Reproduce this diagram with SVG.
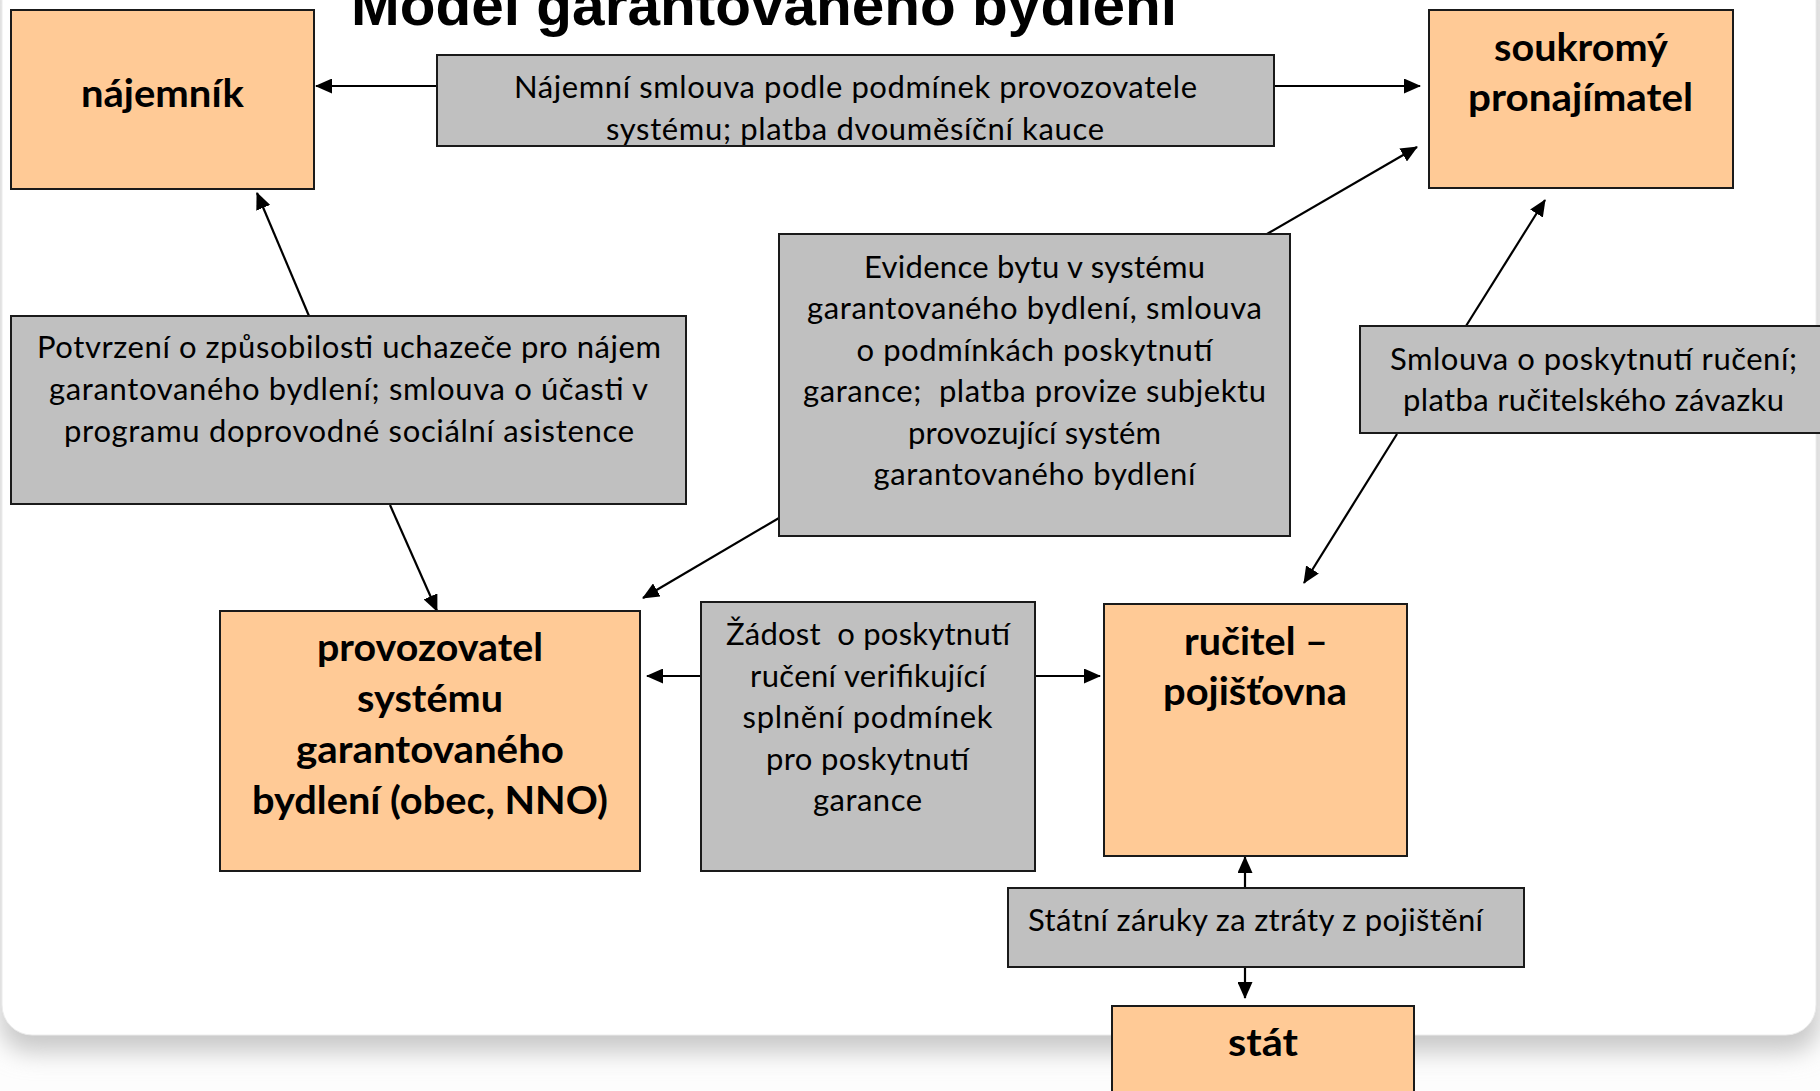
<svg xmlns="http://www.w3.org/2000/svg" width="1820" height="1091" viewBox="0 0 1820 1091">
<style>
.node{fill:#FFCA96;stroke:#1a1a1a;stroke-width:2}
.lbl{fill:#C0C0C0;stroke:#1a1a1a;stroke-width:2}
.bt{font-family:Lato,"Open Sans","Liberation Sans",sans-serif;font-weight:700;font-size:39px;fill:#000}
.gt{font-family:Lato,"Open Sans","Liberation Sans",sans-serif;font-weight:400;font-size:31px;fill:#000}
.title{font-family:"Liberation Sans",Arial,sans-serif;font-weight:700;font-size:58px;fill:#000}
.con{stroke:#000;stroke-width:2.2;fill:none;marker-end:url(#ah)}
</style>
<defs>
<marker id="ah" markerWidth="17" markerHeight="15" refX="16" refY="7.5" orient="auto" markerUnits="userSpaceOnUse">
<path d="M0,0 L17,7.5 L0,15 z" fill="#000"/>
</marker>
<filter id="sh" x="-5%" y="-5%" width="110%" height="115%">
<feGaussianBlur stdDeviation="12"/>
</filter>
</defs>
<rect x="0" y="0" width="1820" height="1091" fill="#fdfdfd"/>
<rect x="0" y="-40" width="1820" height="1092" rx="30" fill="#c8c8c8" filter="url(#sh)"/>
<rect x="2" y="-40" width="1814" height="1075" rx="30" fill="#ffffff" stroke="#ececec" stroke-width="1"/>
<text class="title" x="351" y="25" textLength="826" lengthAdjust="spacingAndGlyphs">Model garantovaného bydlení</text>

<g id="connectors">
<line class="con" x1="437" y1="86" x2="316" y2="86"/>
<line class="con" x1="1274" y1="86" x2="1420" y2="86"/>
<line class="con" x1="1267" y1="234" x2="1417" y2="147"/>
<line class="con" x1="779" y1="518" x2="643" y2="598"/>
<line class="con" x1="309" y1="316" x2="257" y2="193"/>
<line class="con" x1="390" y1="505" x2="437" y2="611"/>
<line class="con" x1="1466" y1="326" x2="1545" y2="200"/>
<line class="con" x1="1397" y1="434" x2="1304" y2="583"/>
<line class="con" x1="701" y1="676" x2="647" y2="676"/>
<line class="con" x1="1035" y1="676" x2="1100" y2="676"/>
<line class="con" x1="1245" y1="888" x2="1245" y2="857"/>
<line class="con" x1="1245" y1="967" x2="1245" y2="998"/>
</g>

<g id="najemnik">
<rect class="node" x="11" y="10" width="303" height="179"/>
<text class="bt" x="81" y="107" textLength="163" lengthAdjust="spacingAndGlyphs">nájemník</text>
</g>

<g id="pronajimatel">
<rect class="node" x="1429" y="10" width="304" height="178"/>
<text class="bt" x="1494" y="61" textLength="174" lengthAdjust="spacingAndGlyphs">soukromý</text>
<text class="bt" x="1468" y="111" textLength="225" lengthAdjust="spacingAndGlyphs">pronajímatel</text>
</g>

<g id="najemni-smlouva">
<rect class="lbl" x="437" y="55" width="837" height="91"/>
<text class="gt" x="514" y="98" textLength="683" lengthAdjust="spacing">Nájemní smlouva podle podmínek provozovatele</text>
<text class="gt" x="606" y="140" textLength="498" lengthAdjust="spacing">systému; platba dvouměsíční kauce</text>
</g>

<g id="evidence">
<rect class="lbl" x="779" y="234" width="511" height="302"/>
<text class="gt" x="864" y="278" textLength="341" lengthAdjust="spacing">Evidence bytu v systému</text>
<text class="gt" x="807" y="319.4" textLength="455" lengthAdjust="spacing">garantovaného bydlení, smlouva</text>
<text class="gt" x="856.5" y="360.8" textLength="356" lengthAdjust="spacing">o podmínkách poskytnutí</text>
<text class="gt" x="803" y="402.2" textLength="463" lengthAdjust="spacing" xml:space="preserve">garance;  platba provize subjektu</text>
<text class="gt" x="908" y="443.6" textLength="253" lengthAdjust="spacing">provozující systém</text>
<text class="gt" x="873.5" y="485" textLength="322" lengthAdjust="spacing">garantovaného bydlení</text>
</g>

<g id="potvrzeni">
<rect class="lbl" x="11" y="316" width="675" height="188"/>
<text class="gt" x="37" y="358" textLength="624" lengthAdjust="spacing">Potvrzení o způsobilosti uchazeče pro nájem</text>
<text class="gt" x="49" y="400" textLength="599" lengthAdjust="spacing">garantovaného bydlení; smlouva o účasti v</text>
<text class="gt" x="64" y="442" textLength="570" lengthAdjust="spacing">programu doprovodné sociální asistence</text>
</g>

<g id="smlouva-ruceni">
<rect class="lbl" x="1360" y="326" width="470" height="107"/>
<text class="gt" x="1390" y="370" textLength="407" lengthAdjust="spacing">Smlouva o poskytnutí ručení;</text>
<text class="gt" x="1403" y="411" textLength="381" lengthAdjust="spacing">platba ručitelského závazku</text>
</g>

<g id="provozovatel">
<rect class="node" x="220" y="611" width="420" height="260"/>
<text class="bt" x="317" y="661" textLength="226" lengthAdjust="spacingAndGlyphs">provozovatel</text>
<text class="bt" x="357" y="712" textLength="146" lengthAdjust="spacingAndGlyphs">systému</text>
<text class="bt" x="296" y="763" textLength="268" lengthAdjust="spacingAndGlyphs">garantovaného</text>
<text class="bt" x="252" y="814" textLength="356" lengthAdjust="spacingAndGlyphs">bydlení (obec, NNO)</text>
</g>

<g id="zadost">
<rect class="lbl" x="701" y="602" width="334" height="269"/>
<text class="gt" x="726" y="645" textLength="284" lengthAdjust="spacing" xml:space="preserve">Žádost  o poskytnutí</text>
<text class="gt" x="750" y="686.5" textLength="236" lengthAdjust="spacing">ručení verifikující</text>
<text class="gt" x="742.5" y="728" textLength="250" lengthAdjust="spacing">splnění podmínek</text>
<text class="gt" x="766" y="769.5" textLength="203" lengthAdjust="spacing">pro poskytnutí</text>
<text class="gt" x="813" y="811" textLength="109" lengthAdjust="spacing">garance</text>
</g>

<g id="rucitel">
<rect class="node" x="1104" y="604" width="303" height="252"/>
<text class="bt" x="1184" y="655" textLength="144" lengthAdjust="spacingAndGlyphs">ručitel –</text>
<text class="bt" x="1163" y="705" textLength="184" lengthAdjust="spacingAndGlyphs">pojišťovna</text>
</g>

<g id="statni-zaruky">
<rect class="lbl" x="1008" y="888" width="516" height="79"/>
<text class="gt" x="1028" y="931" textLength="455" lengthAdjust="spacing">Státní záruky za ztráty z pojištění</text>
</g>

<g id="stat">
<rect class="node" x="1112" y="1006" width="302" height="100"/>
<text class="bt" x="1228" y="1056" textLength="70" lengthAdjust="spacingAndGlyphs">stát</text>
</g>
</svg>
